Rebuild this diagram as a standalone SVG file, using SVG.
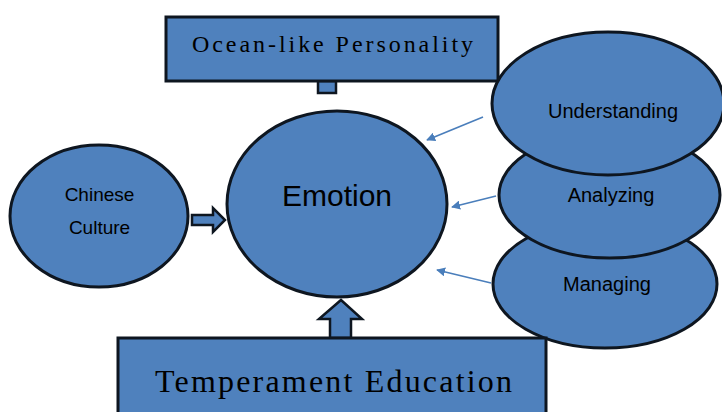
<svg xmlns="http://www.w3.org/2000/svg" width="722" height="412" viewBox="0 0 722 412">
<style>
.shape{fill:#4F81BD;stroke:#0E1620;stroke-width:3}
.blk{fill:#4F81BD;stroke:#0E1620;stroke-width:2.5;stroke-linejoin:miter}
.sans{font-family:"Liberation Sans",Arial,sans-serif;fill:#000;text-anchor:middle}
.serif{font-family:"Liberation Serif","Times New Roman",serif;fill:#000;text-anchor:start}
.thin{stroke:#4A7EBB;stroke-width:1.6;fill:none;marker-end:url(#ah)}
</style>
<defs>
<marker id="ah" viewBox="0 0 10 10" refX="9" refY="5" markerWidth="9" markerHeight="9" markerUnits="userSpaceOnUse" orient="auto">
<path d="M0,0 L10,5 L0,10 Z" fill="#4A7EBB"/>
</marker>
</defs>
<rect width="722" height="412" fill="#fff"/>
<g id="connectors">
<rect class="blk" x="318" y="81" width="18" height="12"/>
<path class="blk" d="M192,215 H213 V208 L225,220 L213,232 V225 H192 Z"/>
<path class="blk" d="M330,338 V319 H319 L341,300 L362,319 H351 V338 Z"/>
<line class="thin" x1="483" y1="117" x2="427" y2="140"/>
<line class="thin" x1="496" y1="196" x2="452" y2="207"/>
<line class="thin" x1="491" y1="283" x2="437" y2="270"/>
</g>
<g id="ocean">
<rect class="shape" x="166" y="17" width="332" height="64"/>
<text class="serif" x="192" y="52" font-size="24" textLength="281" lengthAdjust="spacing">Ocean-like Personality</text>
</g>
<g id="chinese">
<ellipse class="shape" cx="99" cy="216" rx="89" ry="71"/>
<text class="sans" x="99.5" y="201" font-size="19">Chinese</text>
<text class="sans" x="99.5" y="234" font-size="19">Culture</text>
</g>
<g id="emotion">
<ellipse class="shape" cx="337" cy="204" rx="110" ry="93"/>
<text class="sans" x="337" y="206" font-size="30">Emotion</text>
</g>
<g id="managing">
<ellipse class="shape" cx="605" cy="284" rx="112" ry="64"/>
<text class="sans" x="607" y="291" font-size="20">Managing</text>
</g>
<g id="analyzing">
<ellipse class="shape" cx="609.5" cy="195" rx="110.5" ry="63"/>
<text class="sans" x="611" y="202" font-size="20">Analyzing</text>
</g>
<g id="understanding">
<ellipse class="shape" cx="608" cy="103.5" rx="116" ry="71.5"/>
<text class="sans" x="613" y="118" font-size="20">Understanding</text>
</g>
<g id="temperament">
<rect class="shape" x="118" y="338" width="428" height="80"/>
<text class="serif" x="155" y="392" font-size="32" textLength="357" lengthAdjust="spacing">Temperament Education</text>
</g>
</svg>
